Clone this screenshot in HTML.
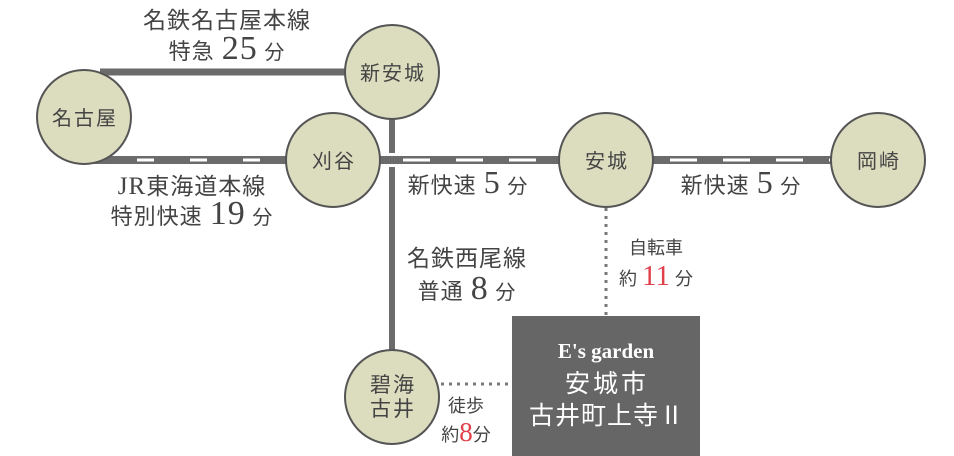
<!DOCTYPE html>
<html><head><meta charset="utf-8"><style>
html,body{margin:0;padding:0;background:#fff;}
svg{display:block;}
text{font-family:"Liberation Serif","Noto Serif CJK SC","Noto Sans CJK JP",serif;fill:#444;}
.j{font-family:"Liberation Sans","Noto Sans CJK JP",sans-serif;}
</style></head><body>
<svg width="954" height="456" viewBox="0 0 954 456" xmlns="http://www.w3.org/2000/svg">
<line x1="100" y1="72" x2="360" y2="72" stroke="#6b6b6b" stroke-width="7"/>
<line x1="392" y1="110" x2="392" y2="153" stroke="#6b6b6b" stroke-width="6"/>
<line x1="392" y1="167" x2="392" y2="360" stroke="#6b6b6b" stroke-width="6"/>
<line x1="90" y1="160" x2="880" y2="160" stroke="#6b6b6b" stroke-width="8"/>
<line x1="137" y1="160" x2="290" y2="160" stroke="#fff" stroke-width="3" stroke-dasharray="17 36"/>
<line x1="403" y1="160" x2="560" y2="160" stroke="#fff" stroke-width="3" stroke-dasharray="27 26"/>
<line x1="670" y1="160" x2="830" y2="160" stroke="#fff" stroke-width="3" stroke-dasharray="27 26"/>
<line x1="606" y1="208" x2="606" y2="316" stroke="#777" stroke-width="3" stroke-dasharray="3 5"/>
<line x1="441" y1="384" x2="512" y2="384" stroke="#777" stroke-width="3" stroke-dasharray="3 5"/>
<g fill="#dcdcbf" stroke="#555" stroke-width="2">
<circle cx="84" cy="117" r="47"/>
<circle cx="392" cy="72" r="47"/>
<circle cx="333" cy="160" r="47"/>
<circle cx="606" cy="160" r="47"/>
<circle cx="878" cy="160" r="47"/>
<circle cx="392" cy="397" r="47"/>
</g>
<g font-size="20" text-anchor="middle" letter-spacing="2">
<text class="j" x="85" y="125">名古屋</text>
<text class="j" x="393" y="80">新安城</text>
<text class="j" x="334" y="168">刈谷</text>
<text class="j" x="607" y="168">安城</text>
<text class="j" x="879" y="168">岡崎</text>
<text class="j" x="393" y="392" font-size="21">碧海</text>
<text class="j" x="393" y="416" font-size="21">古井</text>
</g>
<rect x="512" y="316" width="188" height="140" fill="#666"/>
<text x="606" y="358" text-anchor="middle" font-size="21" font-weight="bold" style="fill:#fff">E's garden</text>
<text class="j" x="607" y="392" text-anchor="middle" font-size="25" letter-spacing="3" style="fill:#fff">安城市</text>
<text class="j" x="607" y="424" text-anchor="middle" font-size="25" letter-spacing="1" style="fill:#fff">古井町上寺Ⅱ</text>
<g font-size="23" text-anchor="middle" letter-spacing="1">
<text class="j" x="227" y="28">名鉄名古屋本線</text>
<text x="227" y="59"><tspan class="j" font-size="22">特急 </tspan><tspan font-size="34">25</tspan><tspan class="j" font-size="20"> 分</tspan></text>
<text x="192" y="194"><tspan font-size="25">JR</tspan><tspan class="j">東海道本線</tspan></text>
<text x="192" y="224"><tspan class="j" font-size="22">特別快速 </tspan><tspan font-size="34">19</tspan><tspan class="j" font-size="20"> 分</tspan></text>
<text x="468" y="193"><tspan class="j" font-size="22">新快速 </tspan><tspan font-size="32">5</tspan><tspan class="j" font-size="20"> 分</tspan></text>
<text x="741" y="193"><tspan class="j" font-size="22">新快速 </tspan><tspan font-size="32">5</tspan><tspan class="j" font-size="20"> 分</tspan></text>
<text class="j" x="467" y="266">名鉄西尾線</text>
<text x="467" y="299"><tspan class="j" font-size="22">普通 </tspan><tspan font-size="34">8</tspan><tspan class="j" font-size="20"> 分</tspan></text>
</g>
<g font-size="18" text-anchor="middle">
<text class="j" x="656" y="254">自転車</text>
<text x="656" y="285"><tspan class="j">約 </tspan><tspan font-size="29" style="fill:#e0404a">11</tspan><tspan class="j"> 分</tspan></text>
<text class="j" x="466" y="412">徒歩</text>
<text x="466" y="441"><tspan class="j">約</tspan><tspan font-size="27" style="fill:#e0404a">8</tspan><tspan class="j">分</tspan></text>
</g>
</svg>
</body></html>
